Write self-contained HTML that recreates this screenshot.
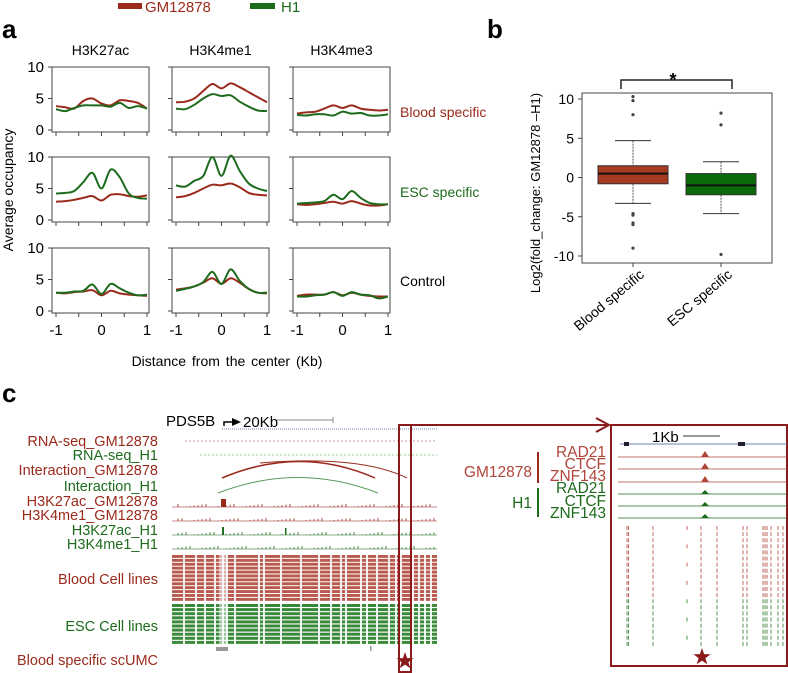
<!DOCTYPE html>
<html><head><meta charset="utf-8"><style>
body{margin:0;background:#fff;font-family:"Liberation Sans",sans-serif}
svg{display:block}
text{font-family:"Liberation Sans",sans-serif}
</style></head><body>
<svg id="fig" width="788" height="673" viewBox="0 0 788 673">
<g>
 <rect x="118" y="3" width="24" height="6" fill="#9a2a1c"/>
 <text x="145" y="12" font-size="15" fill="#9a2a1c">GM12878</text>
 <rect x="250" y="3" width="25" height="6" fill="#1d6b1d"/>
 <text x="281" y="12" font-size="15" fill="#1d6b1d">H1</text>
</g>
<text x="2" y="38" font-size="26" font-weight="bold">a</text>
<text x="487" y="38" font-size="26" font-weight="bold">b</text>
<text x="2" y="402" font-size="26" font-weight="bold">c</text>
<g id="pa"></g>
<g id="pb"></g>
<g id="pc"></g>
</svg>
<script>
// ---------- Panel a data ----------
const colTitles = ["H3K27ac","H3K4me1","H3K4me3"];
const rowTitles = ["Blood specific","ESC specific","Control"];
const xVals = [-1,-0.8,-0.6,-0.4,-0.2,0,0.2,0.4,0.6,0.8,1];
const yTicksA = [0,5,10];
const xTicksA = [-1,-0.5,0,0.5,1];
const xTickLabelsA = ["-1","0","1"];
const gmSeries = [
 [[3.8,3.6,3.4,4.6,5.0,4.2,3.9,4.7,4.6,4.3,3.4],[4.4,4.5,5.0,6.2,7.3,6.6,7.4,6.8,6.0,5.2,4.4],[2.6,2.8,2.9,3.4,3.9,3.5,3.9,3.4,3.2,3.1,3.2]],
 [[2.9,3.0,3.2,3.5,3.8,3.1,4.0,4.1,3.8,3.7,3.9],[3.6,3.8,4.3,5.0,5.6,5.5,5.8,5.2,4.3,4.0,3.9],[2.5,2.4,2.5,2.7,2.9,2.6,3.0,2.6,2.3,2.3,2.5]],
 [[2.9,2.8,3.0,3.1,3.3,2.5,3.2,2.8,2.6,2.5,2.4],[3.4,3.6,3.9,4.5,5.2,4.3,5.2,4.5,3.5,2.9,2.8],[2.4,2.6,2.6,2.6,3.0,2.5,2.9,2.6,2.4,2.3,2.3]]
];
const h1Series = [
 [[3.3,3.0,3.5,3.9,3.9,3.9,3.7,4.3,3.5,3.8,3.4],[3.4,3.3,4.0,5.0,5.7,5.4,5.5,4.5,3.7,3.1,3.0],[2.4,2.3,2.5,2.5,2.3,2.9,2.6,2.7,2.3,2.3,2.5]],
 [[4.2,4.3,4.6,6.0,7.5,5.0,8.0,6.8,4.2,3.5,3.4],[5.5,5.3,6.2,7.0,10.0,7.0,10.2,7.8,5.8,5.0,4.6],[2.6,2.7,2.8,3.0,4.0,3.3,4.6,3.5,2.7,2.5,2.5]],
 [[2.9,2.9,3.1,3.2,4.2,2.7,4.3,3.6,2.9,2.5,2.6],[3.2,3.5,3.9,4.6,6.2,4.3,6.6,4.8,3.5,2.9,2.9],[2.3,2.3,2.5,2.6,3.0,2.4,3.0,2.6,2.5,2.0,2.3]]
];
// ---------- Panel b data ----------
const boxCats = ["Blood specific","ESC specific"];
const boxQ1 = [-0.8,-2.2];
const boxMed = [0.5,-1.0];
const boxQ3 = [1.5,0.5];
const whiskLo = [-3.3,-4.6];
const whiskHi = [4.7,2.0];
const outliers = [[10.3,9.8,8.0,-4.6,-4.8,-5.8,-6.0,-9.0],[8.2,6.7,-9.8]];
const yTicksB = [-10,-5,0,5,10];

const NS="http://www.w3.org/2000/svg";
function mk(parent,tag,attrs,txt){const e=document.createElementNS(NS,tag);for(const k in attrs)e.setAttribute(k,attrs[k]);if(txt!==undefined)e.textContent=txt;parent.appendChild(e);return e;}
const RED="#9a2a1c",GREEN="#1d6b1d";

// ---------- Panel a ----------
const pa=document.getElementById('pa');
const colX=[52,172,293], rowY=[67,157,248], PW=97, PH=65;
function smooth(pts){let d="M"+pts[0][0]+","+pts[0][1];for(let i=0;i<pts.length-1;i++){const p0=pts[Math.max(0,i-1)],p1=pts[i],p2=pts[i+1],p3=pts[Math.min(pts.length-1,i+2)];const c1=[p1[0]+(p2[0]-p0[0])/6,p1[1]+(p2[1]-p0[1])/6],c2=[p2[0]-(p3[0]-p1[0])/6,p2[1]-(p3[1]-p1[1])/6];d+=` C${c1[0].toFixed(1)},${c1[1].toFixed(1)} ${c2[0].toFixed(1)},${c2[1].toFixed(1)} ${p2[0].toFixed(1)},${p2[1].toFixed(1)}`;}return d;}
colTitles.forEach((t,c)=>{const e=mk(pa,'text',{x:colX[c]+PW/2,y:55,'font-size':14,'text-anchor':'middle'},t);

});
const yl=mk(pa,'text',{x:0,y:0,'font-size':14,'text-anchor':'middle',transform:'translate(13,190) rotate(-90)'},"Average occupancy");


const xl=mk(pa,'text',{x:227,y:366,'font-size':14,'text-anchor':'middle','word-spacing':'2'},"Distance from the center (Kb)");


const rowColors=[RED,GREEN,"#000"];
rowTitles.forEach((t,r)=>{const e=mk(pa,'text',{x:400,y:rowY[r]+[50,40,38][r],'font-size':14,fill:rowColors[r]},t);

});
for(let r=0;r<3;r++)for(let c=0;c<3;c++){
 const g=mk(pa,'g',{});
 
 
 const x0=colX[c],y0=rowY[r];
 const sx=v=>x0+4+(v+1)/2*91, sy=v=>y0+63-v*6.3;
 mk(g,'rect',{x:x0,y:y0,width:PW,height:PH,fill:'none',stroke:'#444','stroke-width':1});
 yTicksA.forEach(v=>{mk(g,'line',{x1:x0-4,x2:x0,y1:sy(v),y2:sy(v),stroke:'#444'});
  if(c===0){const e=mk(g,'text',{x:x0-8,y:sy(v)+5,'font-size':15,'text-anchor':'end'},String(v));
  
  }});
 xTicksA.forEach(v=>mk(g,'line',{x1:sx(v),x2:sx(v),y1:y0+PH,y2:y0+PH+4,stroke:'#444'}));
 if(r===2)[-1,0,1].forEach((v,i)=>{const e=mk(g,'text',{x:sx(v),y:y0+PH+22,'font-size':15,'text-anchor':'middle'},xTickLabelsA[i]);
  
  });
 const pr=mk(g,'path',{d:smooth(xVals.map((x,i)=>[sx(x),sy(gmSeries[r][c][i])])),fill:'none',stroke:RED,'stroke-width':2});
 
 
 const pg=mk(g,'path',{d:smooth(xVals.map((x,i)=>[sx(x),sy(h1Series[r][c][i])])),fill:'none',stroke:GREEN,'stroke-width':2});
 
 
}

// ---------- Panel b ----------
const pb=document.getElementById('pb');
const bx0=582,bx1=772,by0=93,by1=263;
const syB=v=>177.5-v*7.85;
const cx=[633,721], bw=70;
mk(pb,'rect',{x:bx0,y:by0,width:bx1-bx0,height:by1-by0,fill:'none',stroke:'#444'});
yTicksB.forEach(v=>{mk(pb,'line',{x1:bx0-4,x2:bx0,y1:syB(v),y2:syB(v),stroke:'#444'});
 const e=mk(pb,'text',{x:bx0-8,y:syB(v)+5,'font-size':14,'text-anchor':'end'},String(v));
 
 });
const ylb=mk(pb,'text',{x:0,y:0,'font-size':13,'text-anchor':'middle',transform:'translate(540,193) rotate(-90)'},"Log2(fold_change: GM12878 \u2013H1)");


const fills=["#a83a22","#0a6a0a"];
boxCats.forEach((cat,i)=>{
 const g=mk(pb,'g',{});
 
 
 const x=cx[i];
 mk(g,'line',{x1:x,x2:x,y1:syB(whiskHi[i]),y2:syB(boxQ3[i]),stroke:'#555','stroke-dasharray':'2,1'});
 mk(g,'line',{x1:x,x2:x,y1:syB(boxQ1[i]),y2:syB(whiskLo[i]),stroke:'#555','stroke-dasharray':'2,1'});
 mk(g,'line',{x1:x-18,x2:x+18,y1:syB(whiskHi[i]),y2:syB(whiskHi[i]),stroke:'#333'});
 mk(g,'line',{x1:x-18,x2:x+18,y1:syB(whiskLo[i]),y2:syB(whiskLo[i]),stroke:'#333'});
 mk(g,'rect',{x:x-bw/2,y:syB(boxQ3[i]),width:bw,height:syB(boxQ1[i])-syB(boxQ3[i]),fill:fills[i],stroke:'#333'});
 mk(g,'line',{x1:x-bw/2,x2:x+bw/2,y1:syB(boxMed[i]),y2:syB(boxMed[i]),stroke:'#111','stroke-width':2});
 outliers[i].forEach(v=>mk(g,'circle',{cx:x,cy:syB(v),r:1.6,fill:'#444'}));
 mk(g,'line',{x1:x,x2:x,y1:by1,y2:by1+4,stroke:'#444'});
 const t=mk(g,'text',{x:0,y:0,'font-size':14,'text-anchor':'end',transform:`translate(${x+12},${by1+13}) rotate(-40)`},cat);
 
 
});
mk(pb,'path',{d:`M621,89 V80 H732 V89`,fill:'none',stroke:'#222','stroke-width':1.5});
const st=mk(pb,'text',{x:673,y:86,'font-size':18,'text-anchor':'middle','font-weight':'bold'},"*");



// ---------- Panel c ----------
const pc=document.getElementById('pc');
const LRED="#b0463a", LGREEN="#2a7a2a";
function lbl(t,x,y,col,anchor,size,name){const e=mk(pc,'text',{x:x,y:y,'font-size':size||13,fill:col,'text-anchor':anchor||'end'},t);
 
 return e;}
lbl("PDS5B",166,426,"#000","start",15,'gene-name');
mk(pc,'path',{d:'M224,426 v-4 h10',fill:'none',stroke:'#000','stroke-width':1.5});
mk(pc,'path',{d:'M232,418 l9,4 l-9,4 z',fill:'#000'});
lbl("20Kb",243,427,"#000","start",15,'scale-label-20kb');
mk(pc,'line',{x1:277,x2:333,y1:420,y2:420,stroke:'#888'});
mk(pc,'line',{x1:333,x2:333,y1:417,y2:423,stroke:'#888'});
mk(pc,'line',{x1:222,x2:437,y1:429,y2:429,stroke:'#7080b0','stroke-dasharray':'1,1'});
const tracks=[["RNA-seq_GM12878",RED,446],["RNA-seq_H1",GREEN,460],["Interaction_GM12878",RED,475],["Interaction_H1",GREEN,491],["H3K27ac_GM12878",RED,506],["H3K4me1_GM12878",RED,520],["H3K27ac_H1",GREEN,535],["H3K4me1_H1",GREEN,549]];
tracks.forEach(t=>lbl(t[0],158,t[2],t[1],'end',14.5,'track-label-'+t[0].toLowerCase()));
mk(pc,'line',{x1:185,x2:437,y1:441,y2:441,stroke:'#c99','stroke-dasharray':'2,2'});
mk(pc,'line',{x1:200,x2:437,y1:455,y2:455,stroke:'#9c9','stroke-dasharray':'2,2'});
mk(pc,'path',{d:'M222,478 Q300,445 375,478',fill:'none',stroke:RED,'stroke-width':1.5});
mk(pc,'path',{d:'M260,463 Q360,455 407,478',fill:'none',stroke:RED,'stroke-width':1});
mk(pc,'path',{d:'M218,493 Q298,462 378,493',fill:'none',stroke:'#5a9a5a','stroke-width':1});
[[507,RED],[521,RED],[535,GREEN],[549,GREEN]].forEach(([y,col],k)=>{
 mk(pc,'line',{x1:172,x2:437,y1:y,y2:y,stroke:col,'stroke-width':0.8,opacity:0.7});
 let d='';for(let x=178;x<436;x+=4){const h=((x*37+k*13)%7)/2;d+=`M${x},${y}v-${h}`;}
 mk(pc,'path',{d:d,stroke:col,'stroke-width':1,opacity:0.8});
});
mk(pc,'rect',{x:221,y:499,width:5,height:8,fill:RED});
mk(pc,'rect',{x:222,y:527,width:2,height:8,fill:GREEN});
mk(pc,'rect',{x:285,y:528,width:1.5,height:7,fill:GREEN});
lbl("Blood Cell lines",158,584,RED,'end',14.5,'group-label-blood');
lbl("ESC Cell lines",158,631,GREEN,'end',14.5,'group-label-esc');
lbl("Blood specific scUMC",158,665,RED,'end',14.5,'track-label-scumc');
const gaps=[183,195,204,214,222,226,234,258,263,280,300,318,330,340,345,360,366,376,388,395,400,412,418,424,430];
for(let i=0;i<12;i++){const y=555+i*3.9;mk(pc,'rect',{x:172,y:y,width:265,height:2.9,fill:'#b85a4e'});}
for(let i=0;i<10;i++){const y=604+i*4.1;mk(pc,'rect',{x:172,y:y,width:265,height:3.0,fill:'#3a8a3a'});}
gaps.forEach(x=>mk(pc,'rect',{x:x,y:555,width:2,height:90,fill:'#fff',opacity:0.9}));
mk(pc,'rect',{x:219,y:555,width:8,height:90,fill:'#fff',opacity:0.5});
mk(pc,'rect',{x:216,y:647,width:12,height:4,fill:'#999'});
mk(pc,'rect',{x:370,y:646,width:1.5,height:5,fill:'#999'});
const hb=mk(pc,'rect',{x:399,y:425,width:12,height:247,fill:'none',stroke:'#8b1a1a','stroke-width':2});


mk(pc,'path',{d:'M411,425 H608',stroke:'#8b1a1a','stroke-width':2});
mk(pc,'path',{d:'M596,418 L609,425 L596,432',fill:'none',stroke:'#8b1a1a','stroke-width':2});
function star(cx,cy,r,fill){let d='';for(let i=0;i<10;i++){const a=-Math.PI/2+i*Math.PI/5,rr=i%2?r*0.4:r;d+=(i?'L':'M')+(cx+rr*Math.cos(a)).toFixed(1)+','+(cy+rr*Math.sin(a)).toFixed(1);}mk(pc,'path',{d:d+'Z',fill:fill});}
star(405,661,9,'#8b1a1a');
const zb=mk(pc,'rect',{x:611,y:425,width:176,height:241,fill:'none',stroke:'#8b1a1a','stroke-width':2});


lbl("1Kb",652,442,"#000","start",15,'scale-label-1kb');
mk(pc,'line',{x1:683,x2:720,y1:436,y2:436,stroke:'#333'});
mk(pc,'line',{x1:620,x2:787,y1:444,y2:444,stroke:'#7080b0'});
mk(pc,'rect',{x:624,y:442,width:5,height:4,fill:'#223'});
mk(pc,'rect',{x:738,y:442,width:7,height:4,fill:'#223'});
const tf=[["RAD21",LRED,457,457],["CTCF",LRED,469,469],["ZNF143",LRED,482,481],["RAD21",GREEN,494,493],["CTCF",GREEN,506,506],["ZNF143",GREEN,518,518]];
tf.forEach((t,i)=>{lbl(t[0],606,t[3],t[1],'end',15.5,'tf-label-'+t[0].toLowerCase());
 mk(pc,'line',{x1:618,x2:787,y1:t[2],y2:t[2],stroke:t[1],'stroke-width':0.8});
 const h=i<3?6:4;mk(pc,'path',{d:`M${701},${t[2]} l4,-${h} l4,${h} z`,fill:t[1]});});
lbl("GM12878",532,477,LRED,'end',15.5,'group-label-gm12878');
mk(pc,'line',{x1:538,x2:538,y1:452,y2:483,stroke:RED,'stroke-width':2});
lbl("H1",532,508,GREEN,'end',15.5,'group-label-h1');
mk(pc,'line',{x1:538,x2:538,y1:488,y2:517,stroke:GREEN,'stroke-width':2});
const cols=[627,628.5,653,687,701,717,743,747,763,765,767,771,778,783];
for(let i=0;i<20;i++){const y=526+i*6.1,col=i<12?LRED:LGREEN;cols.forEach(x=>{if(x===687&&i%3)return;mk(pc,'line',{x1:x,x2:x,y1:y,y2:y+4,stroke:col,'stroke-width':0.8});});}
star(702,657,9,'#8b1a1a');
</script>
</body></html>
